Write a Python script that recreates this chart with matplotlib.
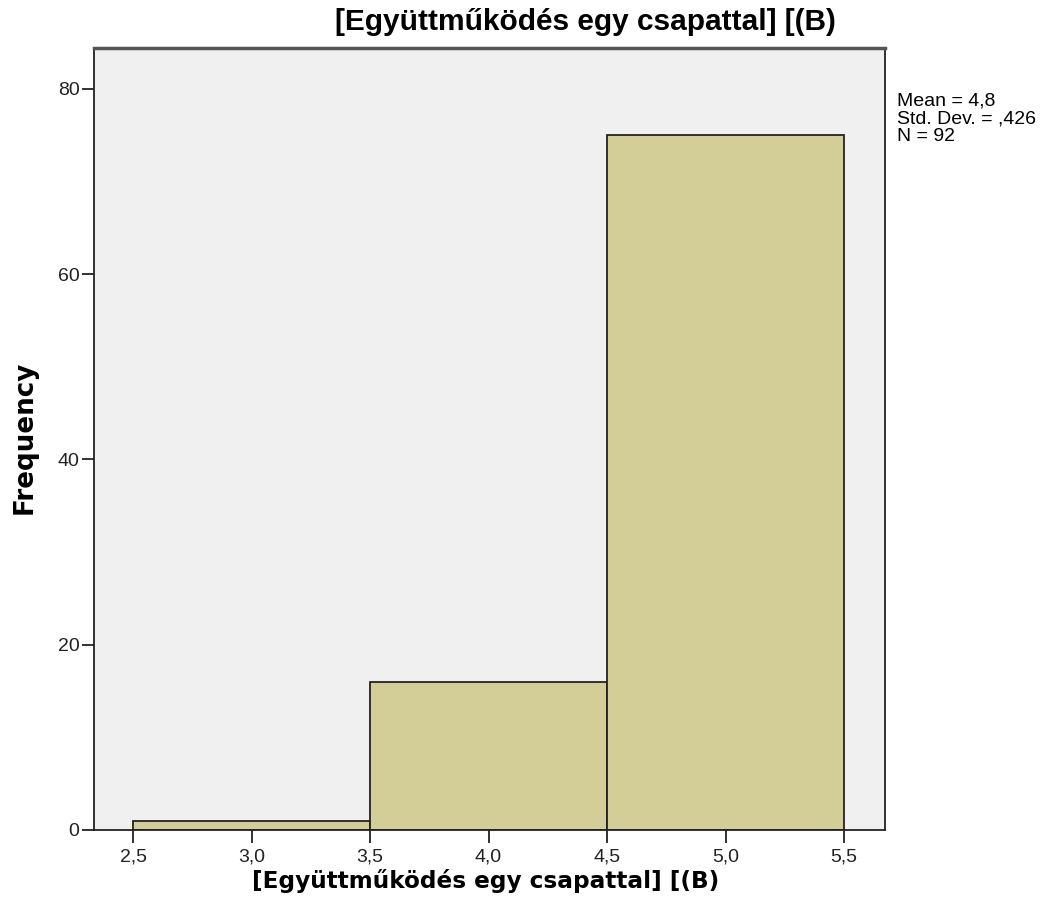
import matplotlib
matplotlib.use("Agg")
import matplotlib.pyplot as plt

bin_edges = [2.5, 3.5, 4.5, 5.5]
frequencies = [1, 16, 75]
x_ticks = [2.5, 3.0, 3.5, 4.0, 4.5, 5.0, 5.5]
x_tick_labels = ["2,5", "3,0", "3,5", "4,0", "4,5", "5,0", "5,5"]
y_ticks = [0, 20, 40, 60, 80]
title = "[Együttműködés egy csapattal] [(B)"
stats_text = "Mean = 4,8\nStd. Dev. = ,426\nN = 92"

plt.rcParams['font.family'] = ['Liberation Sans', 'DejaVu Sans']

fig = plt.figure(figsize=(10.51, 9.23), dpi=100)
fig.patch.set_facecolor("white")
ax = fig.add_axes([94/1051, 1-830/923, (885-94)/1051, (830-48)/923])
ax.set_facecolor("#F0F0F0")

widths = [bin_edges[i+1]-bin_edges[i] for i in range(len(frequencies))]
ax.bar(bin_edges[:-1], frequencies, width=widths, align="edge",
       color="#D3CD97", edgecolor="#222222", linewidth=1.3, zorder=2)

ax.set_xlim(2.335, 5.673)
ax.set_ylim(0, 84.4)
ax.set_xticks(x_ticks)
ax.set_xticklabels(x_tick_labels)
ax.set_yticks(y_ticks)
ax.tick_params(axis="both", direction="out", length=9, width=1.3, labelsize=14,
               colors="#222222", labelcolor="#222222")
ax.tick_params(axis="x", pad=4)
ax.tick_params(axis="y", pad=1.5)

for s in ["left", "bottom", "right"]:
    ax.spines[s].set_color("#222222")
    ax.spines[s].set_linewidth(1.3)
ax.spines["top"].set_color("#555555")
ax.spines["top"].set_linewidth(2.5)

fig.text(486/1051, 1-881/923, title, fontsize=16.7, fontweight="bold",
         family=["DejaVu Sans"], ha="center", va="center", color="black")
fig.text(25/1051, 1-437/923, "Frequency", fontsize=18.8, fontweight="bold",
         family=["DejaVu Sans"], rotation=90, ha="center", va="center", color="black")

fig.text(585/1051, 1-22/923, title, fontsize=21.5, fontweight="bold",
         ha="center", va="center", color="black")
fig.text(897/1051, 1-93/923, stats_text, fontsize=14, ha="left", va="top",
         linespacing=1.04, color="black")

fig.savefig("out.png", dpi=100)
